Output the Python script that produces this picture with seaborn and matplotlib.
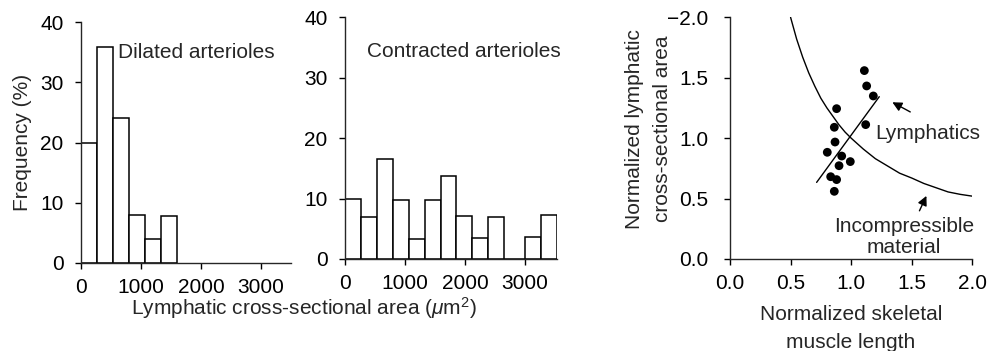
import numpy as np
import pandas as pd
import matplotlib
matplotlib.use("Agg")
import matplotlib.pyplot as plt
import seaborn as sns

# ---------------- data ----------------
dil_edges = [0, 267, 533, 800, 1067, 1333, 1600]
dil_freq = [20.0, 35.9, 24.1, 8.0, 4.0, 7.8]

con_edges = [0, 265, 531, 797, 1062, 1328, 1593, 1859, 2124, 2390, 2655, 3000, 3265, 3530]
con_freq = [10.0, 6.9, 16.6, 9.8, 3.3, 9.8, 13.7, 7.1, 3.5, 7.0, 0.0, 3.6, 7.3]

muscle_len = [1.109, 1.128, 1.183, 0.880, 0.861, 1.120, 0.867, 0.803, 0.922, 0.993, 0.900, 0.831, 0.880, 0.861]
lymph_area = [1.559, 1.432, 1.349, 1.244, 1.090, 1.112, 0.968, 0.883, 0.852, 0.806, 0.772, 0.681, 0.657, 0.560]

fit_x = [0.715, 1.232]
fit_y = [0.634, 1.343]

incomp_x = [0.50, 0.55, 0.60, 0.65, 0.70, 0.75, 0.80, 0.85, 0.90, 0.95, 1.00, 1.10, 1.20, 1.30, 1.40, 1.50, 1.60, 1.70, 1.80, 1.90, 2.00]
incomp_y = [2.00, 1.82, 1.67, 1.54, 1.43, 1.33, 1.25, 1.18, 1.11, 1.05, 1.00, 0.91, 0.83, 0.77, 0.71, 0.67, 0.625, 0.59, 0.555, 0.535, 0.52]

hist_xticks = [0, 1000, 2000, 3000]
hist_yticks = [0, 10, 20, 30, 40]
sc_ticks = [0.0, 0.5, 1.0, 1.5, 2.0]
sc_xticklabels = ["0.0", "0.5", "1.0", "1.5", "2.0"]
sc_yticklabels = ["0.0", "0.5", "1.0", "1.5", "\u22122.0"]

# ---------------- style ----------------
sns.set_theme(style="ticks")
plt.rcParams["font.family"] = ["Liberation Sans", "DejaVu Sans"]
plt.rcParams["mathtext.fontset"] = "custom"
plt.rcParams["mathtext.rm"] = "Liberation Sans"
plt.rcParams["mathtext.it"] = "Liberation Sans:italic"
plt.rcParams["axes.linewidth"] = 1.0
plt.rcParams["xtick.major.width"] = 1.0
plt.rcParams["ytick.major.width"] = 1.0
FS = 15

fig = plt.figure(figsize=(9.89, 3.51), dpi=100)
ax1 = fig.add_axes([81/989, 1-263/351, 210/989, 241/351])
ax2 = fig.add_axes([345/989, 1-259/351, 211.7/989, 241.7/351])
ax3 = fig.add_axes([730/989, 1-259/351, 242.3/989, 241.7/351])

def centers(edges):
    return [(edges[i] + edges[i+1]) / 2 for i in range(len(edges) - 1)]

for ax, edges, freq, xmax in [(ax1, dil_edges, dil_freq, 3500), (ax2, con_edges, con_freq, 3530)]:
    sns.histplot(x=centers(edges), weights=freq, bins=edges, ax=ax,
                 color="white", edgecolor="black", linewidth=1.1, alpha=1.0)
    ax.set_xlim(0, xmax)
    ax.set_ylim(0, 40)
    ax.set_xticks(hist_xticks)
    ax.set_yticks(hist_yticks)
    ax.set_xlabel("")
    ax.set_ylabel("")
    ax.tick_params(axis="both", labelsize=FS, direction="out", length=4.5, colors="black")
    ax.tick_params(axis="x", pad=6)
    ax.tick_params(axis="y", pad=8)
    for s in ["top", "right"]:
        ax.spines[s].set_visible(False)
    ax.patch.set_alpha(0)

ax1.set_ylabel("Frequency (%)", fontsize=FS, labelpad=6)
ax1.text(620, 35, "Dilated arterioles", fontsize=FS, ha="left", va="center")
ax2.text(367, 34.3, "Contracted arterioles", fontsize=FS, ha="left", va="center")
fig.text(304/989, 1-308/351, r"Lymphatic cross-sectional area ($\mu\mathrm{m}^{2}$)",
         fontsize=FS, ha="center", va="center")

# scatter panel
sns.lineplot(x=incomp_x, y=incomp_y, ax=ax3, color="black", linewidth=1.0, sort=False)
sns.lineplot(x=fit_x, y=fit_y, ax=ax3, color="black", linewidth=1.0, sort=False)
sns.scatterplot(x=muscle_len, y=lymph_area, ax=ax3, color="black", s=40, edgecolor="none", zorder=3)
ax3.set_xlim(0, 2.0)
ax3.set_ylim(0, 2.0)
ax3.set_xticks(sc_ticks)
ax3.set_xticklabels(sc_xticklabels)
ax3.set_yticks(sc_ticks)
ax3.set_yticklabels(sc_yticklabels)
ax3.tick_params(axis="both", labelsize=FS, direction="out", length=4.5, colors="black")
ax3.tick_params(axis="x", pad=6)
ax3.tick_params(axis="y", pad=11)
for s in ["top", "right"]:
    ax3.spines[s].set_visible(False)
ax3.set_xlabel("")
ax3.set_ylabel("")
ax3.patch.set_alpha(0)
fig.text(851/989, 1-328.5/351, "Normalized skeletal\nmuscle length", fontsize=FS,
         ha="center", va="center", multialignment="center", linespacing=1.55)
fig.text(648.5/989, 1-129/351, "Normalized lymphatic\ncross-sectional area", fontsize=FS,
         ha="center", va="center", rotation=90, multialignment="center", linespacing=1.6)

ax3.text(1.20, 1.04, "Lymphatics", fontsize=FS, ha="left", va="center")
ax3.annotate("", xy=(1.32, 1.308), xytext=(1.508, 1.206),
             arrowprops=dict(arrowstyle="-|>", color="black", lw=1.0, mutation_scale=14))
ax3.text(1.436, 0.18, "Incompressible\nmaterial", fontsize=FS, ha="center", va="center",
         linespacing=1.15)
ax3.annotate("", xy=(1.631, 0.543), xytext=(1.554, 0.378),
             arrowprops=dict(arrowstyle="-|>", color="black", lw=1.0, mutation_scale=14))

fig.savefig("out.png", dpi=100, facecolor="white")
